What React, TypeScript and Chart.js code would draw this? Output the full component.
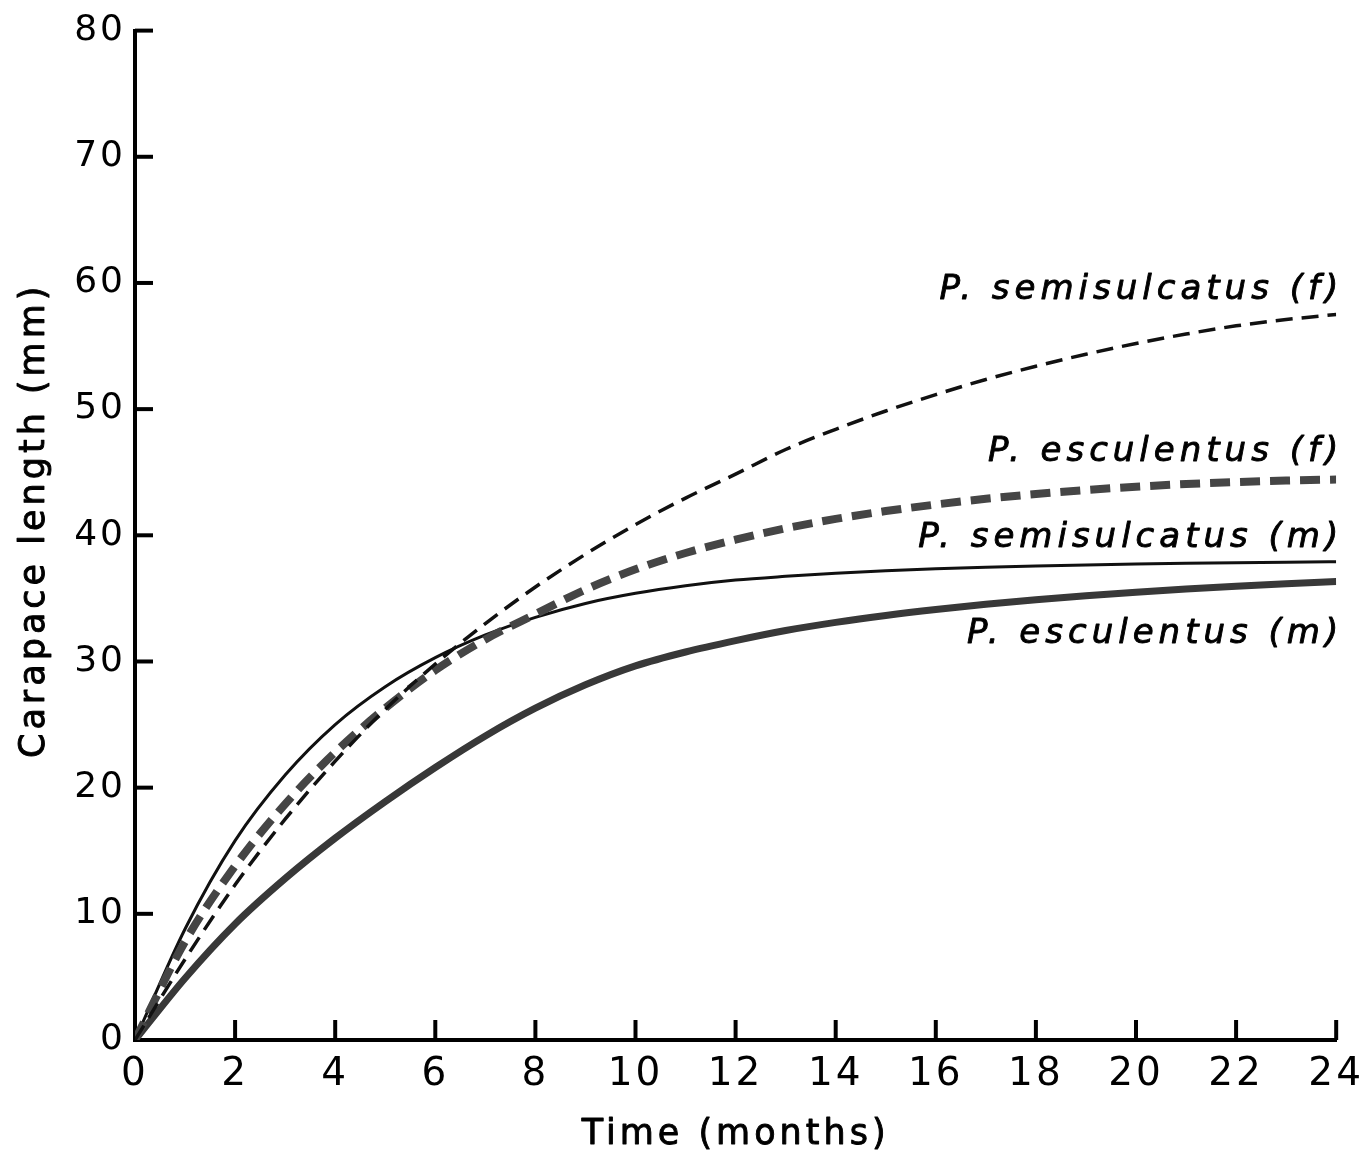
import React, { useEffect, useRef } from 'react';
import { Chart, registerables } from 'chart.js';

Chart.register(...registerables);

// ---- data ----
const months = [0, 1, 2, 3, 4, 5, 6, 7, 8, 9, 10, 11, 12, 13, 14, 15, 16, 17, 18, 19, 20, 21, 22, 23, 24];
const semisulcatusF = [0, 6.4, 12.3, 17.5, 22.1, 26.2, 29.8, 33.0, 35.9, 38.5, 40.85, 42.95, 44.85, 46.8, 48.4, 49.85, 51.15, 52.35, 53.4, 54.35, 55.2, 55.95, 56.6, 57.1, 57.5];
const esculentusF = [0, 7.8, 13.8, 18.7, 22.8, 26.3, 29.3, 31.75, 33.75, 35.7, 37.3, 38.6, 39.65, 40.55, 41.3, 41.92, 42.44, 42.89, 43.27, 43.59, 43.85, 44.06, 44.22, 44.34, 44.42];
const semisulcatusM = [0, 8.8, 15.8, 21.0, 25.0, 28.0, 30.3, 32.1, 33.5, 34.6, 35.4, 36.0, 36.45, 36.75, 37.0, 37.2, 37.35, 37.47, 37.57, 37.65, 37.72, 37.78, 37.83, 37.87, 37.9];
const esculentusM = [0, 4.9, 9.2, 12.8, 16.0, 18.9, 21.6, 24.1, 26.3, 28.15, 29.65, 30.75, 31.65, 32.45, 33.1, 33.65, 34.12, 34.53, 34.89, 35.21, 35.49, 35.74, 35.96, 36.16, 36.34];

const seriesNames = ['P. semisulcatus (f)', 'P. esculentus (f)', 'P. semisulcatus (m)', 'P. esculentus (m)'];
// y value (mm) at which each curve's text label sits, right-aligned at month 24
const labelAnchors = [59.4, 46.6, 39.8, 32.2];

const xMin = 0;
const xMax = 24;
const xStep = 2;
const yMin = 0;
const yMax = 80;
const yStep = 10;

const xTitle = 'Time (months)';
const yTitle = 'Carapace length (mm)';

const FONT = '"DejaVu Sans", Verdana, sans-serif';

const toPoints = (vals: number[]) => months.map((m, i) => ({ x: m, y: vals[i] }));

const drawBoldText = (ctx: CanvasRenderingContext2D, text: string, x: number, y: number) => {
  ctx.fillText(text, x, y);
  ctx.strokeText(text, x, y);
};

const decorPlugin = {
  id: 'decor',
  beforeDraw(chart: any) {
    chart.ctx.letterSpacing = '3px';
  },
  afterDraw(chart: any) {
    const { ctx, chartArea, scales } = chart;
    const xs = scales.x;
    const ys = scales.y;
    ctx.save();
    ctx.strokeStyle = '#000';
    ctx.lineWidth = 4;
    ctx.lineCap = 'butt';
    // inward tick marks
    ys.ticks.forEach((t: any) => {
      if (t.value === yMin) return;
      const py = ys.getPixelForValue(t.value);
      ctx.beginPath();
      ctx.moveTo(chartArea.left, py);
      ctx.lineTo(chartArea.left + 18, py);
      ctx.stroke();
    });
    xs.ticks.forEach((t: any) => {
      if (t.value === xMin) return;
      const px = xs.getPixelForValue(t.value);
      ctx.beginPath();
      ctx.moveTo(px, chartArea.bottom);
      ctx.lineTo(px, chartArea.bottom - 20);
      ctx.stroke();
    });

    ctx.fillStyle = '#000';
    ctx.strokeStyle = '#000';
    ctx.lineWidth = 0.9;
    ctx.lineJoin = 'round';
    // axis titles
    ctx.letterSpacing = '4px';
    ctx.font = `35px ${FONT}`;
    ctx.textAlign = 'center';
    ctx.textBaseline = 'middle';
    drawBoldText(ctx, xTitle, (chartArea.left + chartArea.right) / 2, chartArea.bottom + 95);

    ctx.save();
    ctx.translate(35, (chartArea.top + chartArea.bottom) / 2 - 15);
    ctx.rotate(-Math.PI / 2);
    drawBoldText(ctx, yTitle, 0, 0);
    ctx.restore();

    // series labels
    ctx.font = `italic 34px ${FONT}`;
    ctx.letterSpacing = '5px';
    ctx.textAlign = 'right';
    seriesNames.forEach((name, i) => {
      const py = ys.getPixelForValue(labelAnchors[i]);
      drawBoldText(ctx, name, chartArea.right + 7, py);
    });
    ctx.restore();
  },
};

export default function App() {
  const canvasRef = useRef<HTMLCanvasElement | null>(null);

  useEffect(() => {
    const canvas = canvasRef.current;
    if (!canvas) return;
    const chart = new Chart(canvas, {
      type: 'line',
      data: {
        datasets: [
          {
            label: seriesNames[0],
            data: toPoints(semisulcatusF),
            borderColor: '#111',
            borderWidth: 3.5,
            borderDash: [17, 9],
            borderCapStyle: 'butt',
            pointRadius: 0,
            fill: false,
            cubicInterpolationMode: 'monotone',
          },
          {
            label: seriesNames[1],
            data: toPoints(esculentusF),
            borderColor: '#454545',
            borderWidth: 8,
            borderDash: [20, 10],
            borderCapStyle: 'butt',
            pointRadius: 0,
            fill: false,
            cubicInterpolationMode: 'monotone',
          },
          {
            label: seriesNames[2],
            data: toPoints(semisulcatusM),
            borderColor: '#111',
            borderWidth: 3,
            pointRadius: 0,
            fill: false,
            cubicInterpolationMode: 'monotone',
          },
          {
            label: seriesNames[3],
            data: toPoints(esculentusM),
            borderColor: '#383838',
            borderWidth: 7,
            pointRadius: 0,
            fill: false,
            cubicInterpolationMode: 'monotone',
          },
        ],
      },
      options: {
        responsive: false,
        animation: false,
        devicePixelRatio: 1,
        layout: { padding: { left: 0, top: 27, right: 34, bottom: 0 } },
        plugins: {
          legend: { display: false },
          tooltip: { enabled: false },
        },
        scales: {
          x: {
            type: 'linear',
            min: xMin,
            max: xMax,
            afterFit: (s: any) => {
              s.height = 117;
            },
            ticks: {
              stepSize: xStep,
              color: '#000',
              padding: 11,
              maxRotation: 0,
              font: { family: FONT, size: 39 },
            },
            grid: { display: false, drawTicks: false },
            border: { display: true, color: '#000', width: 4 },
          },
          y: {
            type: 'linear',
            min: yMin,
            max: yMax,
            afterFit: (s: any) => {
              s.width = 135;
            },
            ticks: {
              stepSize: yStep,
              color: '#000',
              padding: 9,
              font: { family: FONT, size: 36 },
            },
            grid: { display: false, drawTicks: false },
            border: { display: true, color: '#000', width: 4 },
          },
        },
      },
      plugins: [decorPlugin],
    } as any);
    return () => {
      chart.destroy();
    };
  }, []);

  return (
    <div style={{ position: 'absolute', left: 0, top: 0, width: 1372, height: 1157, background: '#fff' }}>
      <canvas ref={canvasRef} width={1372} height={1157} style={{ display: 'block' }} />
    </div>
  );
}
